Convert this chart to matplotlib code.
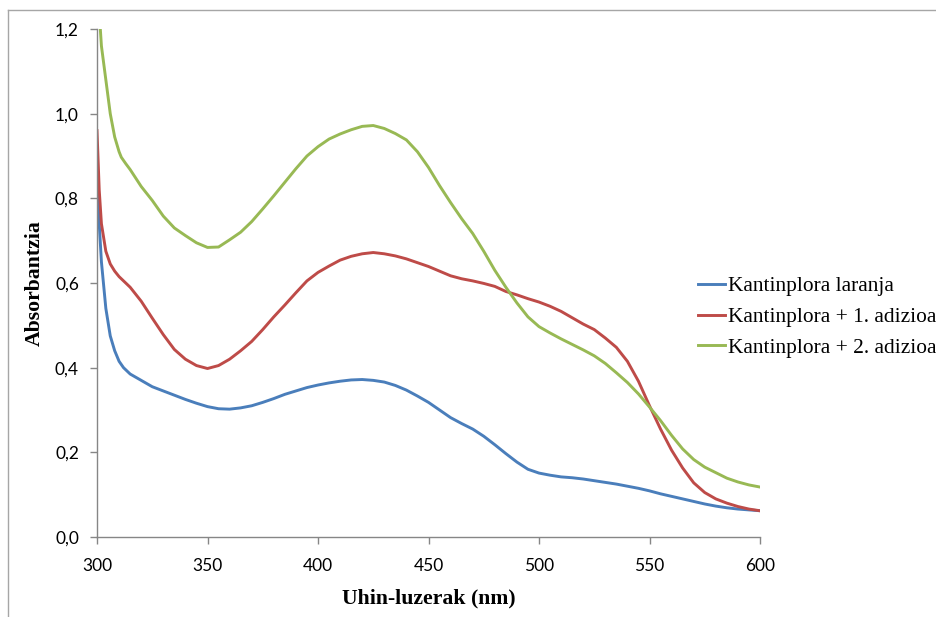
import matplotlib
matplotlib.use("Agg")
import matplotlib.pyplot as plt
from matplotlib.lines import Line2D
from matplotlib.ticker import FuncFormatter

# absorbance spectra, wavelength in nm
wl_blue = [300, 302, 304, 306, 308, 310, 312, 315, 320, 325, 330, 335, 340, 345,
           350, 355, 360, 365, 370, 375, 380, 385, 390, 395, 400, 405, 410, 415,
           420, 425, 430, 435, 440, 445, 450, 455, 460, 465, 470, 475, 480, 485,
           490, 495, 500, 505, 510, 515, 520, 525, 530, 535, 540, 545, 550, 555,
           560, 565, 570, 575, 580, 585, 590, 595, 600]
abs_blue = [0.83, 0.65, 0.54, 0.475, 0.44, 0.415, 0.40, 0.385, 0.370, 0.355,
            0.345, 0.335, 0.325, 0.316, 0.308, 0.303, 0.302, 0.305, 0.310, 0.318,
            0.327, 0.337, 0.345, 0.353, 0.359, 0.364, 0.368, 0.371, 0.372, 0.370,
            0.366, 0.358, 0.347, 0.333, 0.318, 0.300, 0.282, 0.268, 0.255, 0.238,
            0.218, 0.197, 0.177, 0.160, 0.151, 0.146, 0.142, 0.140, 0.137, 0.133,
            0.129, 0.125, 0.120, 0.115, 0.109, 0.102, 0.096, 0.090, 0.084, 0.078,
            0.073, 0.069, 0.066, 0.064, 0.062]

wl_red = [300, 301, 302, 304, 306, 308, 310, 315, 320, 325, 330, 335, 340, 345,
          350, 355, 360, 365, 370, 375, 380, 385, 390, 395, 400, 405, 410, 415,
          420, 425, 430, 435, 440, 445, 450, 455, 460, 465, 470, 475, 480, 485,
          490, 495, 500, 505, 510, 515, 520, 525, 530, 535, 540, 545, 550, 555,
          560, 565, 570, 575, 580, 585, 590, 595, 600]
abs_red = [0.96, 0.82, 0.74, 0.675, 0.645, 0.628, 0.615, 0.590, 0.557, 0.517,
           0.478, 0.443, 0.420, 0.405, 0.398, 0.405, 0.420, 0.440, 0.462, 0.490,
           0.520, 0.548, 0.577, 0.605, 0.625, 0.640, 0.654, 0.663, 0.669, 0.672,
           0.669, 0.664, 0.657, 0.648, 0.639, 0.628, 0.617, 0.610, 0.605, 0.599,
           0.592, 0.580, 0.572, 0.563, 0.555, 0.545, 0.533, 0.518, 0.503, 0.490,
           0.470, 0.448, 0.415, 0.368, 0.310, 0.255, 0.205, 0.163, 0.128, 0.105,
           0.090, 0.080, 0.072, 0.066, 0.062]

wl_green = [300, 302, 304, 306, 308, 310, 311, 313, 315, 320, 325, 330, 335, 340,
            345, 350, 355, 360, 365, 370, 375, 380, 385, 390, 395, 400, 405, 410,
            415, 420, 425, 430, 435, 440, 445, 450, 455, 460, 465, 470, 475, 480,
            485, 490, 495, 500, 505, 510, 515, 520, 525, 530, 535, 540, 545, 550,
            555, 560, 565, 570, 575, 580, 585, 590, 595, 600]
abs_green = [1.32, 1.16, 1.08, 1.00, 0.945, 0.910, 0.897, 0.882, 0.868, 0.828,
             0.795, 0.758, 0.730, 0.712, 0.695, 0.684, 0.685, 0.702, 0.720, 0.745,
             0.775, 0.806, 0.838, 0.870, 0.900, 0.922, 0.940, 0.952, 0.962, 0.970,
             0.972, 0.965, 0.953, 0.938, 0.910, 0.873, 0.830, 0.790, 0.752, 0.717,
             0.675, 0.630, 0.590, 0.553, 0.520, 0.497, 0.482, 0.468, 0.455, 0.442,
             0.428, 0.410, 0.388, 0.365, 0.338, 0.307, 0.275, 0.240, 0.208, 0.183,
             0.165, 0.152, 0.139, 0.130, 0.123, 0.118]

labels = ["Kantinplora laranja", "Kantinplora + 1. adizioa", "Kantinplora + 2. adizioa"]
colors = ["#4A7EBB", "#BE4B48", "#98B954"]
x_ticks = [300, 350, 400, 450, 500, 550, 600]
y_ticks = [0.0, 0.2, 0.4, 0.6, 0.8, 1.0, 1.2]

axis_grey = "#868686"
serif = "Liberation Serif"

fig = plt.figure(figsize=(9.37, 6.17), dpi=100)
ax = fig.add_axes([97 / 937, 1 - 537 / 617, 663 / 937, 508 / 617])

for wl, a, c, lab in zip([wl_blue, wl_red, wl_green],
                         [abs_blue, abs_red, abs_green], colors, labels):
    ax.plot(wl, a, color=c, lw=2.1, label=lab, solid_joinstyle="round")

ax.set_xlim(300, 600)
ax.set_ylim(0, 1.2)
ax.set_xticks(x_ticks)
ax.set_yticks(y_ticks)
ax.yaxis.set_major_formatter(FuncFormatter(lambda v, p: ("%.1f" % v).replace(".", ",")))

for side in ["top", "right"]:
    ax.spines[side].set_visible(False)
for side in ["left", "bottom"]:
    ax.spines[side].set_color(axis_grey)
    ax.spines[side].set_linewidth(1.0)
ax.tick_params(direction="out", length=5, width=1, color=axis_grey, labelsize=12.5)
ax.tick_params(axis="x", pad=10)
ax.tick_params(axis="y", pad=8)
for t in ax.get_xticklabels() + ax.get_yticklabels():
    t.set_fontfamily("Lato")

ax.set_xlabel("Uhin-luzerak (nm)", fontfamily=serif, fontweight="bold", fontsize=15.7)
ax.set_ylabel("Absorbantzia", fontfamily=serif, fontweight="bold", fontsize=15.7)
ax.xaxis.set_label_coords(0.5, -(588 - 537) / 508)
ax.yaxis.set_label_coords((45 - 97) / 663, 0.5)

handles = [Line2D([], [], color=c, lw=2.1) for c in colors]
fig.legend(handles, labels, loc="center left", bbox_to_anchor=(698 / 937, 1 - 317 / 617),
           frameon=False, handlelength=1.26, handletextpad=0.15, labelspacing=0.5,
           borderaxespad=0, borderpad=0,
           prop={"family": serif, "size": 15.4})

# chart-area border (top and left edges only)
fig.add_artist(Line2D([8 / 937, 1], [1 - 10 / 617, 1 - 10 / 617], color="#A6A6A6", lw=1,
                      transform=fig.transFigure))
fig.add_artist(Line2D([8 / 937, 8 / 937], [0, 1 - 10 / 617], color="#A6A6A6", lw=1,
                      transform=fig.transFigure))

fig.savefig("out.png", dpi=100)
